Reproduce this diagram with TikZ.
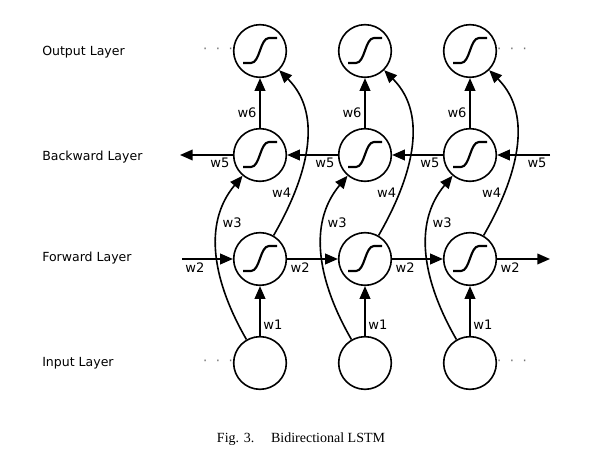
\documentclass[tikz,border=0pt]{standalone}
\usepackage{fontspec}
\setmainfont{DejaVu Sans}
\newfontfamily\capfont{Liberation Serif}
\usetikzlibrary{arrows.meta}
\tikzset{
    unit/.style={circle, draw, line width=1.2pt, minimum size=39.5pt, inner sep=0pt},
    sigmoid/.style={unit, path picture={
        \draw[line width=1.6pt, shift={(path picture bounding box.center)}]
            (-17,-12) -- (-9,-12) .. controls (0,-12) and (0,13) .. (9,13) -- (17,13);}},
    layer/.style={anchor=west, inner sep=0pt, font=\fontsize{9.4}{11}\selectfont},
    wt/.style={font=\fontsize{9.8}{11}\selectfont, inner sep=2pt},
    dots/.style={text=black!55, font=\fontsize{10}{11}\selectfont},
    flow/.style={-{Triangle[length=9.5pt, width=8pt]}, line width=1.2pt},
    skip/.style={flow},
}

\begin{document}
\begin{tikzpicture}[x=0.75pt, y=0.75pt]
    \path[use as bounding box] (0,0) rectangle (609,459);

    \node[layer] (outlabel) at (42,407) {Output Layer};
    \node[layer] (bwlabel) at (42,302) {Backward Layer};
    \node[layer] (fwlabel) at (42,201) {Forward Layer};
    \node[layer] (inlabel) at (42,96) {Input Layer};

    \node[sigmoid] (out1) at (260,408) {};
    \node[sigmoid] (out2) at (365,408) {};
    \node[sigmoid] (out3) at (470,408) {};
    \node[sigmoid] (bw1) at (260,304) {};
    \node[sigmoid] (bw2) at (365,304) {};
    \node[sigmoid] (bw3) at (470,304) {};
    \node[sigmoid] (fw1) at (260,200) {};
    \node[sigmoid] (fw2) at (365,200) {};
    \node[sigmoid] (fw3) at (470,200) {};
    \node[unit] (in1) at (260,96) {};
    \node[unit] (in2) at (365,96) {};
    \node[unit] (in3) at (470,96) {};

    \node[dots] (outleft) at (218,408) {·\ \ ·\ \ ·};
    \node[dots] (outright) at (512,408) {·\ \ ·\ \ ·};
    \node[dots] (inleft) at (218,96) {·\ \ ·\ \ ·};
    \node[dots] (inright) at (512,96) {·\ \ ·\ \ ·};

    \coordinate (bwin) at (550,304);
    \coordinate (bwout) at (180,304);
    \coordinate (fwin) at (182,200);
    \coordinate (fwout) at (550,200);

    \draw[flow] (fwin) -- node[wt, pos=0, anchor=north west] {w2} (fw1);
    \draw[flow] (fw1) -- node[wt, pos=0, anchor=north west] {w2} (fw2);
    \draw[flow] (fw2) -- node[wt, pos=0, anchor=north west] {w2} (fw3);
    \draw[flow] (fw3) -- node[wt, pos=0, anchor=north west] {w2} (fwout);

    \draw[flow] (bwin) -- node[wt, pos=0, anchor=north east] {w5} (bw3);
    \draw[flow] (bw3) -- node[wt, pos=0, anchor=north east] {w5} (bw2);
    \draw[flow] (bw2) -- node[wt, pos=0, anchor=north east] {w5} (bw1);
    \draw[flow] (bw1) -- node[wt, pos=0, anchor=north east] {w5} (bwout);

    \draw[flow] (in1) -- node[wt, pos=0.23, right] {w1} (fw1);
    \draw[flow] (in2) -- node[wt, pos=0.23, right] {w1} (fw2);
    \draw[flow] (in3) -- node[wt, pos=0.23, right] {w1} (fw3);

    \draw[flow] (bw1) -- node[wt, pos=0.3, left] {w6} (out1);
    \draw[flow] (bw2) -- node[wt, pos=0.3, left] {w6} (out2);
    \draw[flow] (bw3) -- node[wt, pos=0.3, left] {w6} (out3);

    \draw[skip] (in1) to[out=120, in=230] node[wt, pos=0.7, right] {w3} (bw1);
    \draw[skip] (in2) to[out=120, in=230] node[wt, pos=0.7, right] {w3} (bw2);
    \draw[skip] (in3) to[out=120, in=230] node[wt, pos=0.7, right] {w3} (bw3);

    \draw[skip] (fw1) to[out=60, in=-45] node[wt, pos=0.25, left] {w4} (out1);
    \draw[skip] (fw2) to[out=60, in=-45] node[wt, pos=0.25, left] {w4} (out2);
    \draw[skip] (fw3) to[out=60, in=-45] node[wt, pos=0.25, left] {w4} (out3);

    \node[font=\capfont\fontsize{10.5}{12}\selectfont] (caption) at (301,20)
        {Fig. 3.\hspace{1.2em}Bidirectional LSTM};
\end{tikzpicture}
\end{document}
